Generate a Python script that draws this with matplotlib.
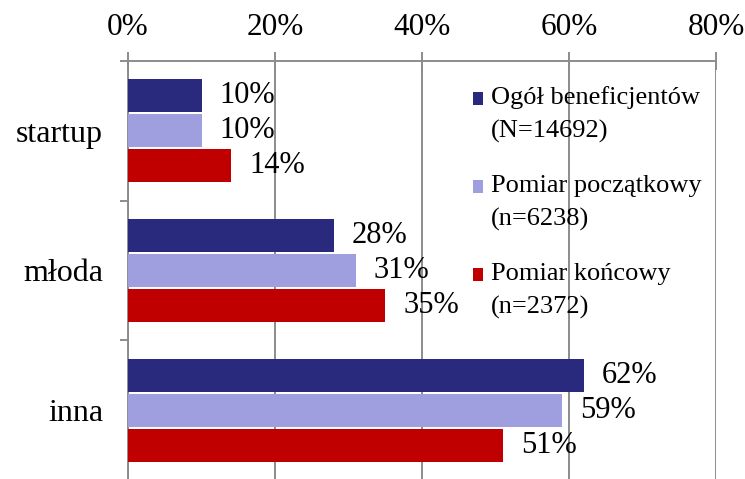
import numpy as np
import matplotlib
matplotlib.use("Agg")
import matplotlib.pyplot as plt
from matplotlib.patches import Rectangle
from matplotlib.container import BarContainer
from matplotlib.legend_handler import HandlerPatch, update_from_first_child
from matplotlib.ticker import FuncFormatter

plt.rcParams['font.family'] = ['Liberation Serif', 'DejaVu Serif']

# dane
kategorie = ['startup', 'młoda', 'inna']
ogol = [10, 28, 62]
poczatkowy = [10, 31, 59]
koncowy = [14, 35, 51]
serie = ['Ogół beneficjentów\n(N=14692)',
         'Pomiar początkowy\n(n=6238)',
         'Pomiar końcowy\n(n=2372)']
kolory = ['#29297D', '#9F9FDF', '#C00000']
ticki_x = [0, 20, 40, 60, 80]

fig = plt.figure(figsize=(7.45, 4.79), dpi=100)
ax = fig.add_axes([128 / 745, -0.002, 588 / 745, 1 - 61 / 479 + 0.002])

y = np.arange(len(kategorie))
szer = 0.236
for i, (vals, lab, kol) in enumerate(zip([ogol, poczatkowy, koncowy], serie, kolory)):
    bars = ax.barh(y + (i - 1) * 0.25, vals, height=szer, color=kol, label=lab, zorder=3)
    ax.bar_label(bars, labels=[f'{v}%' for v in vals], padding=13, fontsize=22, zorder=4)

ax.set_xlim(0, 80)
ax.set_ylim(2.5, -0.5)
ax.set_xticks(ticki_x)
ax.xaxis.set_major_formatter(FuncFormatter(lambda v, p: f'{v:.0f}%'))
ax.xaxis.tick_top()
ax.tick_params(axis='x', direction='inout', length=13.5, width=1.4, color='#8C8C8C',
               labelsize=22.5, pad=7)
ax.set_yticks(y)
ax.set_yticklabels(kategorie)
ax.set_yticks([-0.5, 0.5, 1.5, 2.5], minor=True)
ax.tick_params(axis='y', which='major', length=0, labelsize=23, pad=18)
ax.tick_params(axis='y', which='minor', direction='out', length=6, width=1.4, color='#8C8C8C')

ax.grid(axis='x', color='#8C8C8C', linewidth=1.4, zorder=0)
for s in ['right', 'bottom']:
    ax.spines[s].set_visible(False)
for s in ['top', 'left']:
    ax.spines[s].set_color('#8C8C8C')
    ax.spines[s].set_linewidth(1.4)


# kwadracik legendy przy pierwszej linii opisu
def kwadrat(legend, orig_handle, xdescent, ydescent, width, height, fontsize):
    return Rectangle((-xdescent, -ydescent + 0.57 * fontsize), width, height)


leg = ax.legend(loc='upper left', bbox_to_anchor=(0.587, 0.94), frameon=False,
                fontsize=19, handlelength=0.38, handleheight=0.38, handletextpad=0.3,
                labelspacing=1.2, borderpad=0, borderaxespad=0,
                handler_map={BarContainer: HandlerPatch(patch_func=kwadrat,
                                                        update_func=update_from_first_child)})
for t in leg.get_texts():
    t.set_linespacing(1.62)

fig.savefig('out.png', dpi=100)
